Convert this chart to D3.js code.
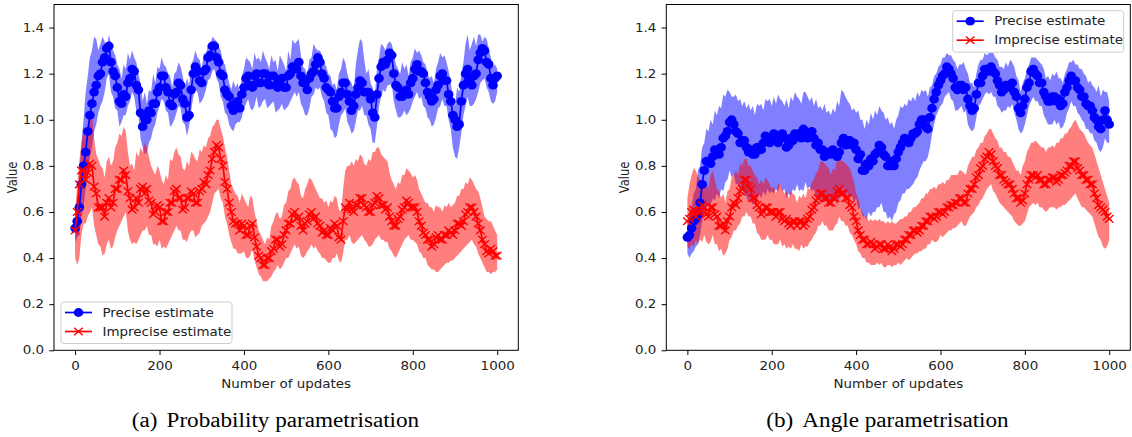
<!DOCTYPE html>
<html><head><meta charset="utf-8">
<script src="https://cdn.jsdelivr.net/npm/d3@7"></script>
<style>body{margin:0;background:#fff;} svg{display:block;}</style>
</head><body>
<svg id="chart" width="1132" height="437"></svg>
<script>
const updates = d3.range(0, 1001, 5);
const yTicks = [0.0, 0.2, 0.4, 0.6, 0.8, 1.0, 1.2, 1.4];
const xTicks = [0, 200, 400, 600, 800, 1000];
const seriesNames = ["Precise estimate", "Imprecise estimate"];
const captions = ["Probability parametrisation", "Angle parametrisation"];
const captionTags = ["(a)", "(b)"];

const probPreciseMean = [
0.53,0.56,0.62,0.72,0.80,0.86,0.95,1.02,1.07,1.12,1.15,1.19,1.20,1.25,1.27,1.31,1.32,1.25,1.21,1.19,
1.14,1.08,1.07,1.11,1.10,1.16,1.18,1.22,1.21,1.15,1.13,1.03,0.97,1.01,1.00,1.04,1.03,1.07,1.07,1.12,
1.14,1.19,1.19,1.14,1.12,1.07,1.06,1.11,1.12,1.16,1.15,1.09,1.07,1.01,1.02,1.13,1.20,1.23,1.21,1.17,
1.16,1.21,1.22,1.27,1.28,1.32,1.32,1.27,1.25,1.20,1.19,1.13,1.11,1.10,1.06,1.04,1.07,1.08,1.05,1.11,
1.14,1.18,1.19,1.15,1.14,1.19,1.20,1.16,1.16,1.20,1.20,1.16,1.15,1.19,1.19,1.15,1.14,1.17,1.18,1.14,
1.14,1.19,1.20,1.23,1.23,1.22,1.25,1.19,1.16,1.16,1.13,1.18,1.20,1.21,1.24,1.27,1.25,1.20,1.18,1.14,
1.13,1.12,1.08,1.05,1.05,1.10,1.12,1.16,1.16,1.11,1.08,1.04,1.06,1.11,1.14,1.17,1.16,1.12,1.12,1.12,
1.09,1.03,1.01,1.11,1.18,1.23,1.25,1.24,1.26,1.29,1.28,1.20,1.15,1.14,1.10,1.10,1.12,1.13,1.11,1.16,
1.18,1.22,1.24,1.21,1.21,1.20,1.16,1.12,1.10,1.08,1.09,1.13,1.15,1.19,1.20,1.17,1.17,1.11,1.08,1.02,
1.00,0.97,0.98,1.08,1.15,1.20,1.22,1.17,1.15,1.19,1.20,1.26,1.29,1.31,1.30,1.25,1.24,1.18,1.15,1.18,
1.19];
const probPreciseLow = [
0.47,0.49,0.50,0.58,0.62,0.70,0.76,0.84,0.88,0.95,0.98,1.03,1.06,1.08,1.12,1.18,1.20,1.12,1.10,1.05,
1.04,0.97,0.99,1.02,1.02,1.06,1.08,1.12,1.10,1.04,1.02,0.92,0.88,0.85,0.86,0.90,0.92,0.96,0.98,1.03,
1.06,1.09,1.08,1.04,1.03,0.97,0.98,1.00,1.03,1.06,1.05,0.99,0.98,0.93,0.97,1.04,1.10,1.13,1.12,1.07,
1.08,1.10,1.13,1.17,1.18,1.21,1.22,1.18,1.16,1.10,1.08,1.03,1.02,0.98,0.96,0.95,0.98,0.99,0.99,1.01,
1.05,1.07,1.09,1.05,1.04,1.06,1.10,1.05,1.06,1.08,1.09,1.05,1.06,1.07,1.08,1.03,1.04,1.05,1.07,1.04,
1.05,1.06,1.08,1.10,1.12,1.10,1.12,1.07,1.05,1.02,1.02,1.05,1.10,1.11,1.14,1.13,1.14,1.10,1.08,1.03,
1.02,0.96,0.95,0.92,0.93,0.98,1.02,1.03,1.05,0.99,0.97,0.94,0.95,0.99,1.04,1.04,1.06,1.02,1.02,0.98,
0.96,0.90,0.90,0.97,1.06,1.10,1.13,1.12,1.15,1.15,1.16,1.08,1.04,1.01,1.01,1.02,1.04,1.02,1.03,1.05,
1.08,1.10,1.12,1.09,1.10,1.06,1.05,1.01,1.00,0.97,0.98,1.01,1.05,1.06,1.09,1.06,1.06,1.00,0.96,0.88,
0.84,0.83,0.88,0.94,1.02,1.06,1.10,1.06,1.06,1.07,1.09,1.12,1.16,1.17,1.18,1.14,1.12,1.08,1.07,1.08,
1.12];
const probPreciseHigh = [
0.60,0.66,0.76,0.90,1.00,1.12,1.19,1.27,1.30,1.36,1.35,1.30,1.33,1.36,1.34,1.31,1.37,1.33,1.30,1.28,
1.24,1.22,1.18,1.24,1.22,1.29,1.26,1.30,1.27,1.25,1.20,1.16,1.08,1.12,1.07,1.13,1.12,1.20,1.16,1.23,
1.22,1.27,1.24,1.23,1.20,1.19,1.14,1.20,1.21,1.25,1.23,1.19,1.14,1.18,1.15,1.24,1.26,1.30,1.27,1.26,
1.22,1.29,1.28,1.33,1.32,1.36,1.35,1.34,1.32,1.30,1.25,1.24,1.20,1.16,1.13,1.17,1.14,1.16,1.12,1.19,
1.22,1.27,1.26,1.25,1.22,1.29,1.26,1.27,1.25,1.30,1.27,1.25,1.22,1.28,1.25,1.26,1.21,1.28,1.26,1.24,
1.21,1.30,1.26,1.35,1.33,1.34,1.35,1.28,1.23,1.22,1.19,1.26,1.27,1.33,1.31,1.30,1.30,1.28,1.25,1.23,
1.20,1.19,1.15,1.16,1.13,1.20,1.22,1.27,1.25,1.20,1.17,1.16,1.13,1.24,1.30,1.35,1.34,1.26,1.20,1.22,
1.16,1.14,1.10,1.22,1.27,1.33,1.32,1.30,1.33,1.34,1.33,1.29,1.24,1.22,1.20,1.25,1.22,1.24,1.19,1.25,
1.27,1.31,1.29,1.30,1.28,1.25,1.24,1.20,1.18,1.19,1.16,1.22,1.25,1.29,1.27,1.28,1.25,1.21,1.16,1.10,
1.06,1.14,1.12,1.20,1.25,1.33,1.37,1.30,1.33,1.36,1.32,1.37,1.37,1.34,1.36,1.35,1.31,1.27,1.23,1.24,
1.22];

const probImpreciseMean = [
0.52,0.60,0.72,0.78,0.78,0.74,0.77,0.81,0.80,0.71,0.68,0.62,0.62,0.62,0.58,0.64,0.66,0.62,0.64,0.70,
0.70,0.74,0.74,0.78,0.76,0.69,0.66,0.61,0.62,0.66,0.64,0.70,0.71,0.68,0.70,0.65,0.64,0.59,0.60,0.63,
0.62,0.56,0.56,0.60,0.60,0.64,0.64,0.69,0.70,0.66,0.66,0.61,0.62,0.66,0.66,0.69,0.68,0.64,0.64,0.69,
0.70,0.73,0.72,0.76,0.78,0.83,0.86,0.89,0.88,0.83,0.80,0.73,0.70,0.64,0.60,0.56,0.55,0.55,0.52,0.55,
0.54,0.50,0.50,0.54,0.55,0.49,0.45,0.41,0.40,0.37,0.37,0.40,0.40,0.43,0.44,0.48,0.48,0.45,0.46,0.50,
0.52,0.55,0.55,0.59,0.60,0.57,0.58,0.54,0.52,0.55,0.56,0.59,0.60,0.57,0.58,0.55,0.54,0.51,0.52,0.50,
0.50,0.53,0.52,0.55,0.54,0.49,0.48,0.56,0.62,0.61,0.64,0.61,0.60,0.63,0.63,0.66,0.66,0.63,0.62,0.60,
0.60,0.63,0.64,0.67,0.66,0.63,0.63,0.61,0.62,0.58,0.56,0.54,0.54,0.57,0.58,0.61,0.62,0.65,0.64,0.62,
0.62,0.62,0.60,0.56,0.54,0.51,0.50,0.48,0.48,0.45,0.46,0.49,0.50,0.48,0.48,0.50,0.50,0.52,0.51,0.50,
0.52,0.55,0.55,0.54,0.56,0.59,0.60,0.62,0.62,0.60,0.58,0.55,0.52,0.48,0.46,0.43,0.42,0.44,0.43,0.41,
0.41];
const probImpreciseLow = [
0.40,0.37,0.40,0.50,0.55,0.55,0.58,0.60,0.62,0.54,0.50,0.46,0.45,0.41,0.42,0.46,0.48,0.44,0.45,0.49,
0.52,0.54,0.56,0.58,0.60,0.52,0.48,0.46,0.47,0.46,0.48,0.50,0.52,0.52,0.54,0.50,0.50,0.46,0.46,0.45,
0.48,0.44,0.45,0.44,0.46,0.48,0.50,0.52,0.54,0.52,0.52,0.48,0.48,0.47,0.50,0.52,0.52,0.49,0.50,0.51,
0.54,0.55,0.56,0.58,0.60,0.64,0.68,0.69,0.70,0.66,0.64,0.58,0.55,0.50,0.47,0.44,0.44,0.42,0.42,0.42,
0.43,0.40,0.40,0.41,0.44,0.39,0.36,0.33,0.32,0.30,0.30,0.30,0.31,0.32,0.34,0.35,0.37,0.35,0.36,0.38,
0.40,0.40,0.42,0.44,0.46,0.44,0.45,0.41,0.40,0.41,0.43,0.44,0.46,0.44,0.45,0.43,0.42,0.40,0.40,0.39,
0.38,0.38,0.40,0.40,0.42,0.39,0.38,0.42,0.48,0.48,0.50,0.47,0.46,0.47,0.48,0.49,0.50,0.48,0.47,0.45,
0.45,0.46,0.48,0.49,0.50,0.48,0.48,0.47,0.47,0.44,0.43,0.41,0.40,0.42,0.44,0.46,0.48,0.49,0.50,0.48,
0.48,0.47,0.46,0.43,0.42,0.40,0.40,0.37,0.36,0.35,0.35,0.34,0.34,0.35,0.36,0.37,0.38,0.38,0.39,0.39,
0.40,0.41,0.42,0.43,0.44,0.45,0.46,0.47,0.48,0.46,0.45,0.42,0.40,0.38,0.36,0.34,0.34,0.33,0.34,0.34,
0.35];
const probImpreciseHigh = [
0.60,0.72,0.82,0.90,0.95,0.92,0.98,1.01,1.02,0.92,0.85,0.83,0.80,0.79,0.75,0.82,0.84,0.80,0.82,0.88,
0.90,0.94,0.93,0.97,0.95,0.86,0.80,0.81,0.78,0.86,0.84,0.88,0.86,0.90,0.88,0.84,0.80,0.78,0.76,0.80,
0.78,0.74,0.72,0.76,0.74,0.83,0.82,0.86,0.88,0.85,0.84,0.79,0.78,0.82,0.80,0.86,0.85,0.83,0.82,0.87,
0.86,0.89,0.88,0.92,0.93,0.97,0.98,1.00,1.00,0.96,0.93,0.88,0.84,0.78,0.72,0.70,0.68,0.67,0.64,0.68,
0.66,0.64,0.62,0.67,0.66,0.60,0.56,0.52,0.50,0.48,0.46,0.49,0.48,0.54,0.56,0.59,0.60,0.57,0.58,0.63,
0.64,0.69,0.70,0.74,0.75,0.73,0.72,0.67,0.66,0.70,0.72,0.75,0.74,0.72,0.70,0.68,0.66,0.66,0.64,0.65,
0.62,0.65,0.64,0.67,0.66,0.61,0.60,0.70,0.78,0.80,0.80,0.82,0.80,0.83,0.82,0.85,0.84,0.81,0.80,0.83,
0.82,0.86,0.86,0.88,0.88,0.85,0.84,0.83,0.82,0.77,0.74,0.72,0.70,0.73,0.72,0.76,0.76,0.79,0.78,0.77,
0.75,0.76,0.74,0.70,0.68,0.66,0.64,0.64,0.62,0.62,0.60,0.63,0.62,0.62,0.60,0.63,0.62,0.64,0.62,0.63,
0.64,0.67,0.67,0.70,0.70,0.73,0.72,0.75,0.74,0.72,0.70,0.69,0.66,0.62,0.58,0.57,0.56,0.56,0.54,0.52,
0.50];

const anglePreciseMean = [
0.49,0.50,0.53,0.56,0.57,0.59,0.64,0.72,0.78,0.82,0.82,0.81,0.84,0.87,0.86,0.85,0.88,0.92,0.93,0.95,
0.99,1.00,0.98,0.95,0.94,0.90,0.91,0.91,0.88,0.86,0.87,0.85,0.85,0.88,0.88,0.87,0.90,0.93,0.92,0.90,
0.92,0.94,0.91,0.90,0.93,0.94,0.92,0.88,0.89,0.92,0.91,0.94,0.93,0.94,0.92,0.96,0.95,0.92,0.93,0.95,
0.92,0.89,0.90,0.87,0.87,0.84,0.86,0.86,0.85,0.87,0.86,0.84,0.86,0.90,0.92,0.89,0.91,0.91,0.89,0.90,
0.87,0.83,0.85,0.78,0.78,0.81,0.80,0.83,0.82,0.85,0.86,0.89,0.88,0.85,0.84,0.80,0.80,0.82,0.80,0.83,
0.86,0.88,0.90,0.92,0.91,0.90,0.92,0.94,0.94,0.95,0.98,1.00,1.00,0.97,0.96,1.01,1.05,1.09,1.12,1.15,
1.17,1.19,1.20,1.23,1.22,1.20,1.18,1.14,1.13,1.15,1.15,1.13,1.14,1.09,1.06,1.04,1.05,1.11,1.16,1.16,
1.19,1.22,1.22,1.21,1.23,1.21,1.20,1.17,1.15,1.12,1.13,1.15,1.15,1.14,1.16,1.12,1.10,1.05,1.03,1.06,
1.09,1.14,1.16,1.21,1.22,1.20,1.19,1.16,1.16,1.12,1.10,1.08,1.08,1.10,1.10,1.08,1.09,1.06,1.07,1.12,
1.14,1.17,1.19,1.17,1.17,1.14,1.13,1.10,1.10,1.07,1.06,1.06,1.04,1.01,1.00,0.97,0.96,1.00,1.04,1.00,
0.98];
const anglePreciseLow = [
0.42,0.40,0.42,0.43,0.45,0.46,0.50,0.56,0.60,0.62,0.64,0.63,0.66,0.65,0.68,0.66,0.70,0.69,0.73,0.74,
0.78,0.75,0.76,0.72,0.72,0.69,0.70,0.67,0.67,0.64,0.66,0.63,0.64,0.65,0.68,0.66,0.69,0.67,0.70,0.68,
0.69,0.68,0.70,0.69,0.72,0.69,0.70,0.66,0.68,0.67,0.70,0.69,0.72,0.69,0.70,0.69,0.73,0.70,0.71,0.69,
0.70,0.66,0.68,0.65,0.66,0.64,0.66,0.62,0.64,0.64,0.66,0.63,0.66,0.67,0.70,0.66,0.68,0.66,0.67,0.64,
0.66,0.61,0.62,0.58,0.58,0.57,0.60,0.58,0.60,0.60,0.62,0.62,0.64,0.60,0.60,0.57,0.58,0.56,0.59,0.60,
0.64,0.65,0.68,0.68,0.70,0.70,0.71,0.72,0.74,0.75,0.78,0.80,0.82,0.82,0.84,0.88,0.94,0.98,1.02,1.04,
1.06,1.07,1.10,1.11,1.12,1.09,1.08,1.04,1.04,1.05,1.06,1.03,1.04,0.98,0.96,0.95,0.96,1.01,1.06,1.07,
1.09,1.11,1.12,1.11,1.12,1.10,1.10,1.06,1.05,1.03,1.04,1.04,1.06,1.05,1.07,1.03,1.00,0.96,0.94,0.95,
0.98,1.02,1.06,1.08,1.10,1.08,1.08,1.06,1.06,1.02,1.00,0.98,0.98,0.98,1.00,0.98,0.99,0.96,0.97,0.99,
1.03,1.05,1.08,1.06,1.06,1.03,1.02,1.00,0.99,0.96,0.96,0.94,0.94,0.91,0.90,0.87,0.86,0.88,0.92,0.90,
0.90];
const anglePreciseHigh = [
0.55,0.60,0.62,0.68,0.70,0.78,0.80,0.88,0.90,0.96,0.95,1.00,0.98,1.04,1.02,1.06,1.05,1.11,1.10,1.13,
1.12,1.10,1.10,1.11,1.08,1.09,1.06,1.08,1.05,1.07,1.04,1.06,1.02,1.07,1.06,1.07,1.04,1.09,1.08,1.09,
1.06,1.10,1.07,1.11,1.09,1.08,1.06,1.09,1.05,1.10,1.08,1.12,1.10,1.09,1.07,1.12,1.12,1.10,1.08,1.10,
1.06,1.09,1.05,1.06,1.04,1.07,1.03,1.04,1.02,1.05,1.03,1.08,1.06,1.13,1.12,1.10,1.08,1.07,1.04,1.05,
1.03,1.04,1.00,1.00,0.96,1.00,0.98,1.03,1.00,1.04,1.02,1.06,1.04,1.03,1.00,1.01,0.98,0.99,0.96,1.00,
1.02,1.06,1.05,1.07,1.06,1.09,1.08,1.10,1.08,1.12,1.10,1.13,1.12,1.13,1.10,1.14,1.15,1.19,1.20,1.23,
1.24,1.27,1.27,1.29,1.28,1.28,1.26,1.25,1.22,1.24,1.24,1.25,1.22,1.20,1.16,1.16,1.14,1.20,1.24,1.26,
1.26,1.29,1.28,1.29,1.29,1.29,1.27,1.26,1.23,1.23,1.22,1.25,1.23,1.26,1.25,1.23,1.19,1.17,1.12,1.16,
1.18,1.22,1.24,1.27,1.27,1.27,1.26,1.25,1.24,1.22,1.18,1.19,1.17,1.20,1.19,1.21,1.18,1.18,1.16,1.20,
1.22,1.25,1.25,1.26,1.24,1.24,1.22,1.22,1.20,1.19,1.16,1.17,1.15,1.14,1.12,1.15,1.10,1.13,1.12,1.12,
1.08];

const angleImpreciseMean = [
0.56,0.57,0.60,0.61,0.58,0.60,0.60,0.63,0.62,0.59,0.58,0.62,0.62,0.59,0.58,0.54,0.54,0.55,0.52,0.56,
0.58,0.62,0.64,0.63,0.66,0.69,0.70,0.74,0.74,0.71,0.70,0.66,0.66,0.63,0.62,0.59,0.60,0.62,0.62,0.60,
0.60,0.60,0.58,0.60,0.60,0.57,0.56,0.57,0.55,0.54,0.56,0.56,0.54,0.56,0.56,0.54,0.55,0.57,0.58,0.61,
0.62,0.65,0.66,0.68,0.68,0.66,0.66,0.64,0.64,0.66,0.66,0.69,0.70,0.68,0.68,0.66,0.66,0.63,0.62,0.58,
0.56,0.52,0.50,0.48,0.48,0.46,0.46,0.47,0.46,0.44,0.45,0.46,0.46,0.44,0.44,0.46,0.45,0.43,0.44,0.46,
0.46,0.45,0.46,0.48,0.48,0.50,0.50,0.52,0.52,0.51,0.52,0.54,0.54,0.56,0.56,0.58,0.58,0.57,0.58,0.60,
0.60,0.59,0.60,0.62,0.62,0.63,0.63,0.64,0.64,0.66,0.66,0.64,0.64,0.68,0.70,0.70,0.72,0.75,0.76,0.79,
0.80,0.83,0.84,0.86,0.85,0.82,0.80,0.79,0.76,0.76,0.74,0.73,0.72,0.72,0.70,0.68,0.66,0.66,0.64,0.65,
0.68,0.72,0.74,0.76,0.76,0.75,0.76,0.74,0.74,0.72,0.72,0.74,0.74,0.75,0.75,0.73,0.74,0.76,0.76,0.77,
0.78,0.80,0.80,0.82,0.82,0.79,0.78,0.76,0.76,0.74,0.74,0.72,0.72,0.68,0.66,0.63,0.62,0.61,0.60,0.58,
0.57];
const angleImpreciseLow = [
0.45,0.44,0.46,0.45,0.48,0.46,0.48,0.47,0.50,0.47,0.46,0.47,0.50,0.46,0.46,0.43,0.44,0.41,0.42,0.44,
0.48,0.49,0.52,0.52,0.54,0.55,0.58,0.58,0.60,0.58,0.58,0.55,0.55,0.51,0.50,0.48,0.48,0.48,0.50,0.48,
0.48,0.46,0.46,0.46,0.48,0.45,0.46,0.44,0.45,0.44,0.46,0.44,0.44,0.43,0.46,0.44,0.45,0.45,0.47,0.48,
0.50,0.51,0.54,0.54,0.56,0.54,0.54,0.52,0.52,0.52,0.54,0.55,0.58,0.56,0.56,0.54,0.54,0.51,0.50,0.48,
0.46,0.43,0.42,0.40,0.40,0.38,0.38,0.37,0.37,0.37,0.38,0.37,0.38,0.36,0.36,0.37,0.37,0.36,0.37,0.37,
0.38,0.37,0.38,0.39,0.40,0.39,0.40,0.41,0.42,0.42,0.43,0.43,0.44,0.44,0.46,0.46,0.48,0.47,0.47,0.48,
0.50,0.49,0.50,0.51,0.52,0.52,0.53,0.53,0.54,0.55,0.56,0.54,0.54,0.56,0.58,0.59,0.60,0.62,0.63,0.65,
0.66,0.68,0.70,0.71,0.72,0.69,0.68,0.66,0.64,0.63,0.62,0.61,0.60,0.59,0.58,0.56,0.55,0.54,0.54,0.55,
0.56,0.59,0.62,0.63,0.64,0.63,0.64,0.62,0.62,0.61,0.60,0.61,0.62,0.62,0.62,0.61,0.62,0.62,0.63,0.63,
0.64,0.65,0.66,0.67,0.68,0.66,0.64,0.62,0.62,0.61,0.60,0.59,0.58,0.55,0.52,0.49,0.48,0.45,0.44,0.45,
0.48];
const angleImpreciseHigh = [
0.66,0.72,0.76,0.79,0.78,0.75,0.74,0.74,0.72,0.73,0.70,0.76,0.78,0.74,0.70,0.69,0.66,0.68,0.64,0.69,
0.70,0.75,0.76,0.78,0.76,0.81,0.80,0.83,0.83,0.80,0.80,0.78,0.76,0.75,0.72,0.74,0.72,0.75,0.74,0.72,
0.70,0.71,0.68,0.72,0.72,0.70,0.68,0.69,0.66,0.69,0.68,0.67,0.64,0.67,0.66,0.68,0.66,0.70,0.70,0.73,
0.74,0.77,0.78,0.82,0.82,0.81,0.80,0.79,0.76,0.79,0.78,0.83,0.84,0.82,0.82,0.81,0.80,0.79,0.76,0.73,
0.68,0.66,0.62,0.60,0.58,0.58,0.56,0.57,0.56,0.57,0.56,0.57,0.56,0.56,0.55,0.56,0.55,0.56,0.55,0.55,
0.56,0.57,0.57,0.58,0.58,0.60,0.60,0.62,0.62,0.63,0.64,0.66,0.66,0.68,0.68,0.70,0.70,0.71,0.70,0.72,
0.72,0.73,0.72,0.74,0.74,0.76,0.76,0.76,0.76,0.78,0.78,0.77,0.76,0.80,0.82,0.84,0.84,0.87,0.88,0.90,
0.90,0.93,0.94,0.96,0.96,0.94,0.92,0.91,0.88,0.88,0.86,0.86,0.84,0.84,0.82,0.80,0.78,0.78,0.76,0.80,
0.82,0.86,0.88,0.90,0.90,0.91,0.90,0.89,0.88,0.88,0.86,0.88,0.88,0.89,0.88,0.90,0.90,0.92,0.92,0.94,
0.94,0.96,0.97,0.99,1.00,0.98,0.96,0.95,0.94,0.92,0.90,0.89,0.88,0.85,0.82,0.79,0.76,0.73,0.70,0.67,
0.64];

// ---------- drawing ----------
const svg = d3.select("#chart");
const FONT = "DejaVu Sans";
const SX = 1.17; // horizontal stretch of the original figure's text
const BLUE = "#0000ff", RED = "#ff0000";

function stretch(sel, s) {
  sel.each(function () {
    const t = d3.select(this);
    const x = +t.attr("x") || 0;
    t.attr("transform", `translate(${x},0) scale(${s},1) translate(${-x},0)`);
  });
}
function crossPath(cx, cy, rx, ry) {
  return `M${cx - rx},${cy - ry}L${cx + rx},${cy + ry}M${cx - rx},${cy + ry}L${cx + rx},${cy - ry}`;
}

const panels = [
  {left: 54, right: 518.3, cap: 275.5, legend: {x: 61, y: 302},
   series: [
     {mean: probPreciseMean, lo: probPreciseLow, hi: probPreciseHigh, color: BLUE, marker: "o"},
     {mean: probImpreciseMean, lo: probImpreciseLow, hi: probImpreciseHigh, color: RED, marker: "x"}]},
  {left: 666.3, right: 1130.3, cap: 887.5, legend: {x: 952.7, y: 10.7},
   series: [
     {mean: anglePreciseMean, lo: anglePreciseLow, hi: anglePreciseHigh, color: BLUE, marker: "o"},
     {mean: angleImpreciseMean, lo: angleImpreciseLow, hi: angleImpreciseHigh, color: RED, marker: "x"}]}
];
const plotTop = 4.5, plotBottom = 350.3;

panels.forEach((p, pi) => {
  const x = d3.scaleLinear().domain([-50, 1050]).range([p.left, p.right]);
  const y = d3.scaleLinear().domain([0, 1.5]).range([plotBottom, plotTop]);
  const g = svg.append("g");
  const clipId = "clip" + pi;
  svg.append("clipPath").attr("id", clipId).append("rect")
    .attr("x", p.left).attr("y", plotTop).attr("width", p.right - p.left).attr("height", plotBottom - plotTop);
  const plot = g.append("g").attr("clip-path", `url(#${clipId})`);

  // bands (drawn below all lines, as in matplotlib)
  p.series.forEach(s => {
    const area = d3.area().x((d, i) => x(updates[i])).y0((d, i) => y(s.lo[i])).y1((d, i) => y(s.hi[i]));
    plot.append("path").datum(s.mean).attr("d", area)
      .attr("fill", s.color).attr("fill-opacity", 0.5).attr("stroke", "none");
  });
  // lines + markers
  p.series.forEach(s => {
    const line = d3.line().x((d, i) => x(updates[i])).y(d => y(d));
    plot.append("path").datum(s.mean).attr("d", line)
      .attr("fill", "none").attr("stroke", s.color).attr("stroke-width", 1.7);
    if (s.marker === "o") {
      plot.append("g").selectAll("ellipse").data(s.mean).join("ellipse")
        .attr("cx", (d, i) => x(updates[i])).attr("cy", d => y(d)).attr("rx", 4.8).attr("ry", 4.4)
        .attr("fill", s.color);
    } else {
      const m = plot.append("g").attr("stroke", s.color).attr("stroke-width", 1.4);
      m.selectAll("path").data(s.mean).join("path")
        .attr("d", (d, i) => crossPath(x(updates[i]), y(d), 4.3, 3.8));
    }
  });

  // axes
  const ax = g.append("g").attr("transform", `translate(0,${plotBottom})`)
    .call(d3.axisBottom(x).tickValues(xTicks).tickFormat(d3.format("d")).tickSize(4.7).tickPadding(6.7));
  const ay = g.append("g").attr("transform", `translate(${p.left},0)`)
    .call(d3.axisLeft(y).tickValues(yTicks).tickFormat(d3.format(".1f")).tickSize(4.7).tickPadding(5.3));
  [ax, ay].forEach(a => {
    a.select(".domain").remove();
    a.selectAll("line").attr("stroke", "#000").attr("stroke-width", 1);
    a.selectAll("text").attr("font-family", FONT).attr("font-size", 11.5).attr("fill", "#222");
    stretch(a.selectAll("text"), SX);
  });
  // spines
  g.append("rect").attr("x", p.left).attr("y", plotTop)
    .attr("width", p.right - p.left).attr("height", plotBottom - plotTop)
    .attr("fill", "none").attr("stroke", "#000").attr("stroke-width", 1);

  // axis labels
  const xl = g.append("text").attr("x", (p.left + p.right) / 2).attr("y", 387.7)
    .attr("text-anchor", "middle").attr("font-family", FONT).attr("font-size", 11.5).attr("fill", "#222")
    .text("Number of updates");
  stretch(xl, SX);
  const yx = pi === 0 ? 17.3 : 629;
  g.append("text").attr("transform", `translate(${yx},${(plotTop + plotBottom) / 2}) scale(${SX},1) rotate(-90)`)
    .attr("text-anchor", "middle").attr("font-family", FONT).attr("font-size", 11.5).attr("fill", "#222")
    .text("Value");

  // legend
  const L = p.legend;
  const lg = g.append("g");
  lg.append("rect").attr("x", L.x).attr("y", L.y).attr("width", 171).attr("height", 41.5)
    .attr("rx", 3).attr("fill", "#fff").attr("fill-opacity", 0.8).attr("stroke", "#cccccc").attr("stroke-width", 1);
  p.series.forEach((s, si) => {
    const ry = L.y + 10.5 + si * 19;
    lg.append("line").attr("x1", L.x + 4).attr("x2", L.x + 31).attr("y1", ry).attr("y2", ry)
      .attr("stroke", s.color).attr("stroke-width", 1.7);
    const mx = L.x + 17.5;
    if (s.marker === "o") {
      lg.append("ellipse").attr("cx", mx).attr("cy", ry).attr("rx", 4.8).attr("ry", 4.4).attr("fill", s.color);
    } else {
      lg.append("path").attr("d", crossPath(mx, ry, 4.3, 3.8))
        .attr("stroke", s.color).attr("stroke-width", 1.4);
    }
    const t = lg.append("text").attr("x", L.x + 41.5).attr("y", ry + 4.2)
      .attr("font-family", FONT).attr("font-size", 11.5).attr("fill", "#222").text(seriesNames[si]);
    stretch(t, SX);
  });

  // caption
  const cap = svg.append("text").attr("x", p.cap).attr("y", 427.3).attr("text-anchor", "middle")
    .attr("font-family", "Liberation Serif").attr("font-size", 20.5).attr("fill", "#000");
  cap.append("tspan").text(captionTags[pi]);
  cap.append("tspan").attr("dx", 8).text(captions[pi]);
  stretch(cap, 1.13);
});
</script>
</body></html>
